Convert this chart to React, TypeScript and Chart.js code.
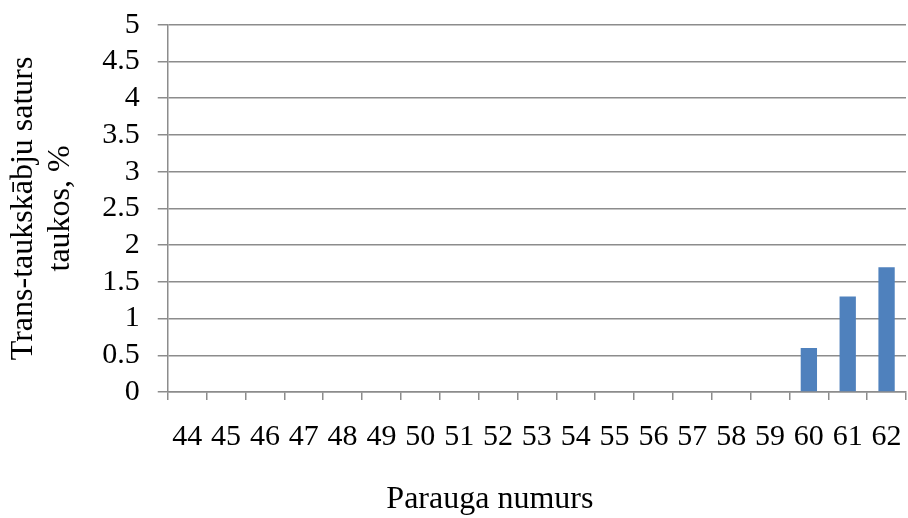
import React, { useEffect, useRef } from "react";
import { Chart, registerables } from "chart.js";

Chart.register(...registerables);

const categories = ["44","45","46","47","48","49","50","51","52","53","54","55","56","57","58","59","60","61","62"];
const values = [0,0,0,0,0,0,0,0,0,0,0,0,0,0,0,0,0.6,1.3,1.7];
const yTitle = ["Trans-taukskābju saturs", "taukos, %"];
const xTitle = "Parauga numurs";

const FONT = "'Liberation Serif', 'Times New Roman', serif";
const FS = 30;

const xTitlePlugin = {
  id: "xTitlePlugin",
  afterDraw(chart: any) {
    const { ctx, chartArea } = chart;
    ctx.save();
    ctx.font = `32px ${FONT}`;
    ctx.fillStyle = "#000";
    ctx.textAlign = "center";
    ctx.textBaseline = "middle";
    ctx.fillText(xTitle, (chartArea.left + chartArea.right) / 2 - 47, chart.height - 18);
    ctx.restore();
  },
};

export default function App() {
  const ref = useRef<HTMLCanvasElement | null>(null);
  useEffect(() => {
    document.body.style.margin = "0";
    const chart = new Chart(ref.current!, {
      type: "bar",
      data: {
        labels: categories,
        datasets: [
          {
            data: values,
            backgroundColor: "#4f81bd",
            barPercentage: 0.42,
            categoryPercentage: 1,
          },
        ],
      },
      options: {
        animation: false,
        responsive: false,
        devicePixelRatio: 1,
        layout: { padding: { top: 0, right: 2, bottom: 44, left: 5 } },
        plugins: { legend: { display: false }, tooltip: { enabled: false } },
        scales: {
          x: {
            offset: true,
            grid: {
              offset: true,
              drawOnChartArea: false,
              drawTicks: true,
              tickLength: 8,
              color: "#8c8c8c",
              lineWidth: 1.5,
            },
            border: { color: "#8c8c8c", width: 1.5 },
            ticks: {
              color: "#000",
              font: { family: FONT, size: FS, lineHeight: 2.2 },
              padding: 4,
              maxRotation: 0,
              autoSkip: false,
            },
          },
          y: {
            min: 0,
            max: 5,
            grid: { color: "#8c8c8c", lineWidth: 1.5, tickLength: 10 },
            border: { color: "#8c8c8c", width: 1.5 },
            ticks: {
              stepSize: 0.5,
              autoSkip: false,
              color: "#000",
              font: { family: FONT, size: FS, lineHeight: 0.45 },
              padding: 18,
              callback: (v: any) => String(v),
            },
            title: {
              display: true,
              text: yTitle,
              color: "#000",
              font: { family: FONT, size: 32, lineHeight: 1.16 },
              padding: { top: 0, bottom: 5 },
            },
          },
        },
      },
      plugins: [xTitlePlugin],
    });
    return () => chart.destroy();
  }, []);
  return <canvas ref={ref} width={908} height={518} style={{ display: "block" }} />;
}
